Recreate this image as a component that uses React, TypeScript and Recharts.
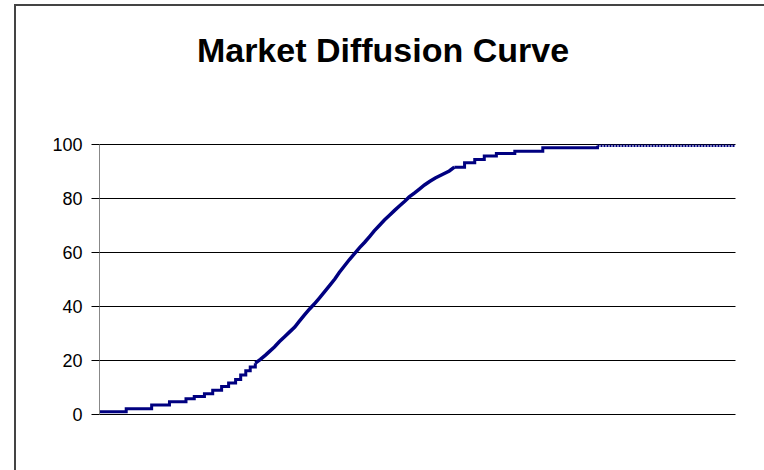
import React from "react";
import { LineChart, Line, XAxis, YAxis, CartesianGrid } from "recharts";

// time periods (share of the observed horizon, 0-100)
const periods = [
  0, 4.2, 8.2, 11.0, 13.6, 14.9, 16.5, 17.8, 19.2, 20.3, 21.4, 22.2, 23.0, 23.7,
  24.5, 25.3, 26.1, 26.7, 27.5, 28.3, 29.1, 29.9, 30.7, 31.4, 32.2, 33.0, 33.8,
  34.6, 35.4, 36.2, 37.0, 37.7, 38.5, 39.3, 40.1, 40.9, 41.7, 42.5, 43.2, 44.0,
  44.8, 45.6, 46.4, 47.2, 48.0, 48.7, 49.5, 50.3, 51.1, 51.9, 52.8, 53.9, 55.0,
  55.8, 57.4, 59.0, 60.5, 62.4, 65.3, 69.7, 78.3,
];
// cumulative adoption (%)
const adoption = [
  1.0, 2.1, 3.5, 4.7, 5.8, 6.7, 7.7, 9.0, 10.4, 11.7, 13.0, 14.6, 16.2, 17.6,
  19.0, 20.4, 22.0, 23.3, 25.0, 27.0, 28.8, 30.6, 32.4, 34.5, 36.8, 39.0, 41.0,
  43.2, 45.5, 47.8, 50.2, 52.6, 55.0, 57.4, 59.6, 61.8, 63.8, 66.0, 68.0, 70.0,
  72.0, 73.8, 75.6, 77.3, 79.0, 80.6, 82.0, 83.5, 85.0, 86.3, 87.6, 88.9, 90.2,
  91.6, 93.2, 94.4, 95.7, 96.7, 97.5, 98.8, 99.5,
];
// saturation tail
const tailPeriods = [78.3, 100];
const tailValues = [99.5, 99.5];

// phases of the curve (early stair-steps, fast take-off, late stair-steps)
const takeoffStart = 24.5;
const takeoffEnd = 55.8;

const yTicks = [0, 20, 40, 60, 80, 100];

const data = [
  ...periods.map((t, i) => ({
    t,
    early: t <= takeoffStart ? adoption[i] : undefined,
    takeoff: t >= takeoffStart && t <= takeoffEnd ? adoption[i] : undefined,
    late: t >= takeoffEnd ? adoption[i] : undefined,
    tail: t === tailPeriods[0] ? tailValues[0] : undefined,
  })),
  ...tailPeriods.slice(1).map((t, i) => ({ t, tail: tailValues[i + 1] })),
];

const font = "'Liberation Sans', Arial, sans-serif";
const navy = "#000080";

export default function App() {
  return (
    <div style={{ position: "absolute", left: 0, top: 0, width: 764, height: 470, background: "#fff", overflow: "hidden" }}>
      <div style={{ position: "absolute", left: 14, top: 4, width: 750, height: 2, background: "#444" }} />
      <div style={{ position: "absolute", left: 14, top: 4, width: 2, height: 466, background: "#444" }} />
      <svg style={{ position: "absolute", left: 0, top: 0 }} width={764} height={100}>
        <text x={383} y={62} textAnchor="middle" fontFamily={font} fontWeight="bold" fontSize={34} fill="#000">
          Market Diffusion Curve
        </text>
      </svg>
      <div style={{ position: "absolute", left: 0, top: 0 }}>
        <LineChart
          width={764}
          height={470}
          data={data}
          margin={{ top: 144.5, right: 28.5, bottom: 55.5, left: 0 }}
        >
          <CartesianGrid horizontal={true} vertical={false} stroke="#000" strokeOpacity={1} />
          <XAxis dataKey="t" type="number" domain={[0, 100]} hide />
          <YAxis
            width={99.5}
            domain={[0, 100]}
            ticks={yTicks}
            interval={0}
            axisLine={{ stroke: "#888" }}
            tickLine={{ stroke: "#000" }}
            tickSize={8}
            tickMargin={9}
            tick={{ fill: "#000", fontSize: 18, fontFamily: font }}
          />
          <Line type="stepAfter" dataKey="early" stroke={navy} strokeWidth={3} dot={false} isAnimationActive={false} />
          <Line type="linear" dataKey="takeoff" stroke={navy} strokeWidth={3.5} dot={false} isAnimationActive={false} />
          <Line type="stepAfter" dataKey="late" stroke={navy} strokeWidth={3} dot={false} isAnimationActive={false} />
          <Line
            type="linear"
            dataKey="tail"
            stroke={navy}
            strokeWidth={2.5}
            strokeDasharray="2 1"
            dot={false}
            isAnimationActive={false}
          />
        </LineChart>
      </div>
    </div>
  );
}
